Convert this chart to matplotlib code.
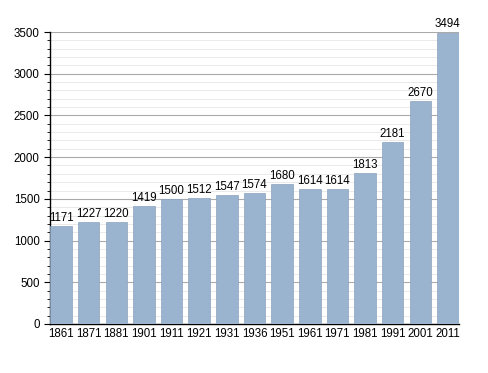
import matplotlib
matplotlib.use("Agg")
import matplotlib.pyplot as plt
from matplotlib.ticker import MultipleLocator

years = ["1861", "1871", "1881", "1901", "1911", "1921", "1931", "1936",
         "1951", "1961", "1971", "1981", "1991", "2001", "2011"]
population = [1171, 1227, 1220, 1419, 1500, 1512, 1547, 1574,
              1680, 1614, 1614, 1813, 2181, 2670, 3494]

plt.rcParams["font.family"] = ["Liberation Sans", "DejaVu Sans"]

fig = plt.figure(figsize=(4.88, 3.73), dpi=100)
ax = fig.add_axes([0.1025, 0.1314, 0.838, 0.7828])

x = range(len(years))
ax.bar(x, population, width=0.78, color="#9ab3cf", edgecolor="#8aa3bf",
       linewidth=0.5, zorder=3)
for i, v in zip(x, population):
    ax.text(i, v + 25, str(v), ha="center", va="bottom", fontsize=8.3)

ax.set_xlim(-0.4, 14.4)
ax.set_ylim(0, 3500)
ax.set_xticks(list(x))
ax.set_xticklabels(years, fontsize=8.3)
ax.yaxis.set_major_locator(MultipleLocator(500))
ax.yaxis.set_minor_locator(MultipleLocator(100))
ax.tick_params(axis="y", which="major", labelsize=8.3, length=4, width=0.8)
ax.tick_params(axis="y", which="minor", length=2.5, width=0.6)
ax.tick_params(axis="x", length=0, pad=3)
ax.grid(axis="y", which="major", color="#aaaaaa", linewidth=0.8, zorder=0)
ax.grid(axis="y", which="minor", color="#e6e6e6", linewidth=0.6, zorder=0)
for s in ("top", "right"):
    ax.spines[s].set_visible(False)
ax.spines["left"].set_linewidth(1)
ax.spines["bottom"].set_linewidth(1)

fig.savefig("out.png", dpi=100)
